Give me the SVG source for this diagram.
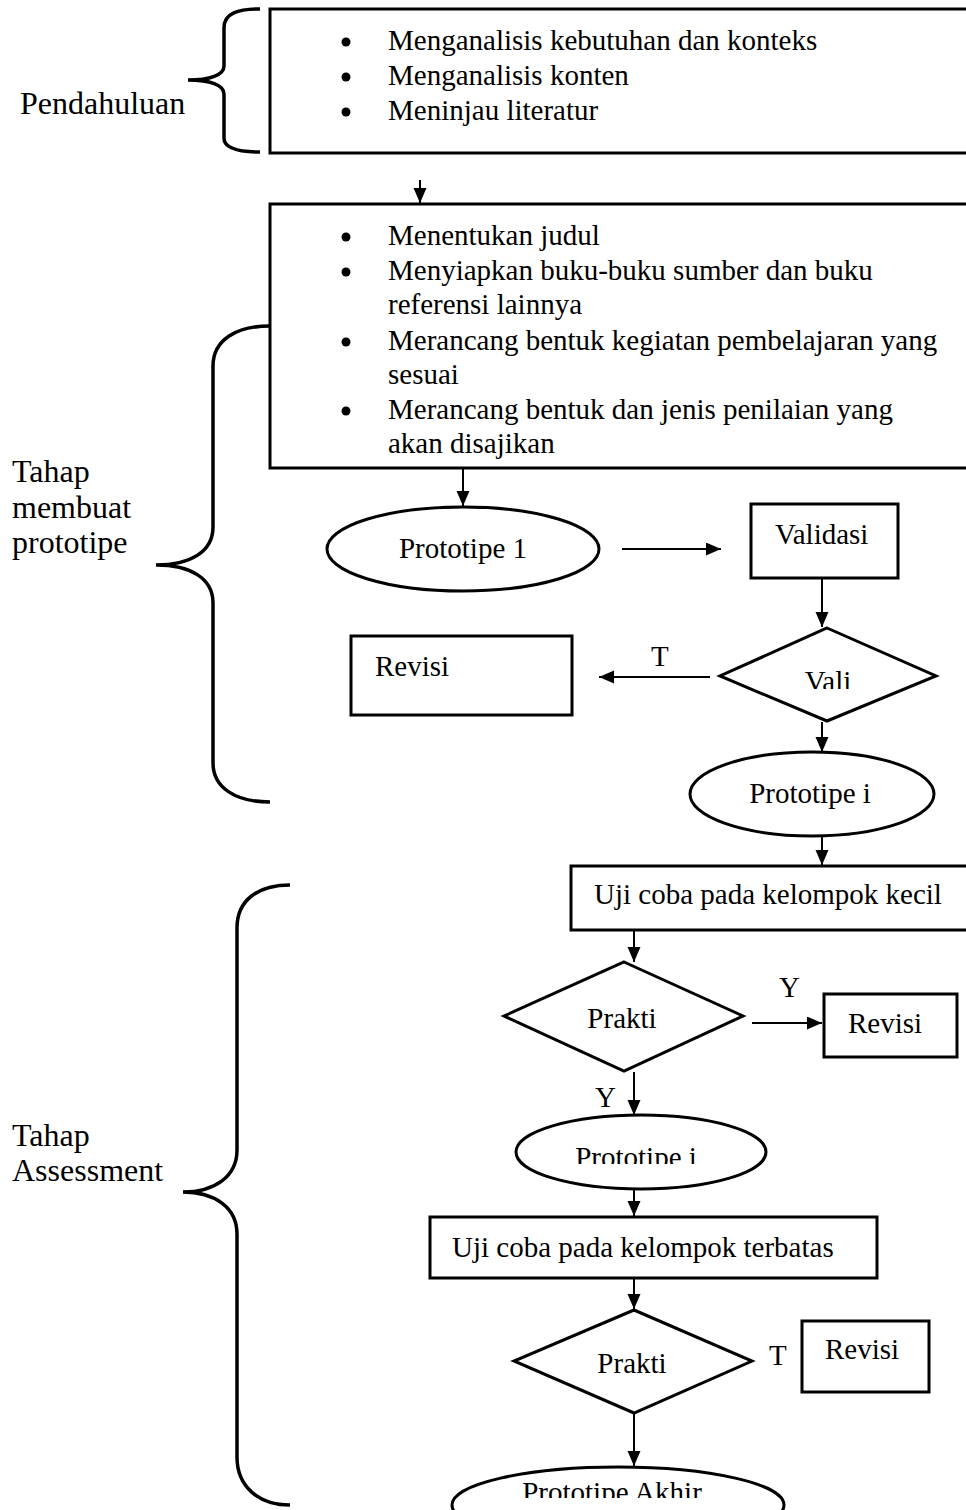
<svg xmlns="http://www.w3.org/2000/svg" width="966" height="1510" viewBox="0 0 966 1510">
<style>
.t{font-family:"Liberation Serif","Times New Roman",serif;font-size:29px;fill:#000}
.lb{font-family:"Liberation Serif","Times New Roman",serif;font-size:32px;fill:#000}
.box{fill:#fff;stroke:#000;stroke-width:3}
.br{fill:none;stroke:#000;stroke-width:3.5}
.cn{fill:none;stroke:#000;stroke-width:2}
</style>
<defs>
<marker id="ah" markerUnits="userSpaceOnUse" markerWidth="16" markerHeight="14" refX="15" refY="6.5" orient="auto">
<path d="M0,0 L15,6.5 L0,13 Z" fill="#000"/>
</marker>
<clipPath id="clipVali"><rect x="700" y="600" width="260" height="89"/></clipPath>
<clipPath id="clipP2"><rect x="500" y="1100" width="300" height="64"/></clipPath>
<clipPath id="clipPA"><rect x="440" y="1440" width="360" height="58"/></clipPath>
</defs>
<rect width="966" height="1510" fill="#fff"/>

<g id="brace-pendahuluan">
<path class="br" d="M260,9 C238,9 224,13 224,28 L224,66 C224,75 210,80 188,80 C210,80 224,85 224,94 L224,138 C224,148 238,152 260,152"/>
<text class="lb" x="20" y="114">Pendahuluan</text>
</g>

<g id="brace-prototipe">
<path class="br" d="M270,326 C236,326 213,340 213,366 L213,527 C213,552 190,565 156,565 C190,565 213,578 213,603 L213,763 C213,788 236,802 270,802"/>
<text class="lb" x="12" y="482">Tahap</text>
<text class="lb" x="12" y="518">membuat</text>
<text class="lb" x="12" y="553">prototipe</text>
</g>

<g id="brace-assessment">
<path class="br" d="M290,885 C258,885 237,900 237,928 L237,1150 C237,1177 214,1192 183,1192 C214,1192 237,1207 237,1234 L237,1457 C237,1486 258,1505 290,1505"/>
<text class="lb" x="12" y="1146">Tahap</text>
<text class="lb" x="12" y="1181">Assessment</text>
</g>

<g id="box-pendahuluan">
<rect class="box" x="270" y="9" width="710" height="144"/>
<circle cx="346" cy="42" r="4.5"/>
<circle cx="346" cy="77" r="4.5"/>
<circle cx="346" cy="112" r="4.5"/>
<text class="t" x="388" y="50">Menganalisis kebutuhan dan konteks</text>
<text class="t" x="388" y="85">Menganalisis konten</text>
<text class="t" x="388" y="120">Meninjau literatur</text>
</g>

<g id="box-perancangan">
<rect class="box" x="270" y="204" width="710" height="264"/>
<circle cx="346" cy="237" r="4.5"/>
<circle cx="346" cy="272" r="4.5"/>
<circle cx="346" cy="342" r="4.5"/>
<circle cx="346" cy="411" r="4.5"/>
<text class="t" x="388" y="245">Menentukan judul</text>
<text class="t" x="388" y="280">Menyiapkan buku-buku sumber dan buku</text>
<text class="t" x="388" y="314">referensi lainnya</text>
<text class="t" x="388" y="350">Merancang bentuk kegiatan pembelajaran yang</text>
<text class="t" x="388" y="384">sesuai</text>
<text class="t" x="388" y="419">Merancang bentuk dan jenis penilaian yang</text>
<text class="t" x="388" y="453">akan disajikan</text>
</g>

<g id="prototipe-1">
<ellipse class="box" cx="463" cy="549" rx="136" ry="42"/>
<text class="t" x="463" y="558" text-anchor="middle">Prototipe 1</text>
</g>

<g id="validasi">
<rect class="box" x="751" y="504" width="147" height="74"/>
<text class="t" x="775" y="544">Validasi</text>
</g>

<g id="vali">
<polygon class="box" points="827,628 936,676 827,721 720,676"/>
<text class="t" x="828" y="691" text-anchor="middle" clip-path="url(#clipVali)">Vali</text>
</g>

<g id="revisi-1">
<rect class="box" x="351" y="636" width="221" height="79"/>
<text class="t" x="375" y="676">Revisi</text>
</g>

<g id="prototipe-i-1">
<ellipse class="box" cx="812" cy="794" rx="122" ry="42"/>
<text class="t" x="810" y="803" text-anchor="middle">Prototipe i</text>
</g>

<g id="uji-kecil">
<rect class="box" x="571" y="866" width="410" height="64"/>
<text class="t" x="594" y="904">Uji coba pada kelompok kecil</text>
</g>

<g id="prakti-1">
<polygon class="box" points="624,962 743,1016 624,1071 504,1016"/>
<text class="t" x="622" y="1028" text-anchor="middle">Prakti</text>
</g>

<g id="revisi-2">
<rect class="box" x="824" y="994" width="133" height="63"/>
<text class="t" x="848" y="1033">Revisi</text>
</g>

<g id="prototipe-i-2">
<ellipse class="box" cx="641" cy="1152" rx="125" ry="37"/>
<text class="t" x="636" y="1167" text-anchor="middle" clip-path="url(#clipP2)">Prototipe i</text>
</g>

<g id="uji-terbatas">
<rect class="box" x="430" y="1217" width="447" height="61"/>
<text class="t" x="452" y="1257">Uji coba pada kelompok terbatas</text>
</g>

<g id="prakti-2">
<polygon class="box" points="634,1310 752,1361 634,1413 514,1361"/>
<text class="t" x="632" y="1373" text-anchor="middle">Prakti</text>
</g>

<g id="revisi-3">
<rect class="box" x="802" y="1321" width="127" height="71"/>
<text class="t" x="825" y="1359">Revisi</text>
</g>

<g id="prototipe-akhir">
<ellipse class="box" cx="618" cy="1505" rx="166" ry="38"/>
<text class="t" x="612" y="1502" text-anchor="middle" clip-path="url(#clipPA)">Prototipe Akhir</text>
</g>

<g id="connectors">
<path class="cn" d="M420,180 V203" marker-end="url(#ah)"/>
<path class="cn" d="M463,468 V506" marker-end="url(#ah)"/>
<path class="cn" d="M622,549 H721" marker-end="url(#ah)"/>
<path class="cn" d="M822,579 V627" marker-end="url(#ah)"/>
<path class="cn" d="M710,677 H599" marker-end="url(#ah)"/>
<path class="cn" d="M822,722 V752" marker-end="url(#ah)"/>
<path class="cn" d="M822,836 V865" marker-end="url(#ah)"/>
<path class="cn" d="M634,930 V962" marker-end="url(#ah)"/>
<path class="cn" d="M752,1023 H822" marker-end="url(#ah)"/>
<path class="cn" d="M634,1072 V1115" marker-end="url(#ah)"/>
<path class="cn" d="M634,1189 V1216" marker-end="url(#ah)"/>
<path class="cn" d="M634,1279 V1309" marker-end="url(#ah)"/>
<path class="cn" d="M634,1414 V1466" marker-end="url(#ah)"/>
<text class="t" x="651" y="666">T</text>
<text class="t" x="779" y="997">Y</text>
<text class="t" x="595" y="1107">Y</text>
<text class="t" x="769" y="1365">T</text>
</g>
</svg>
